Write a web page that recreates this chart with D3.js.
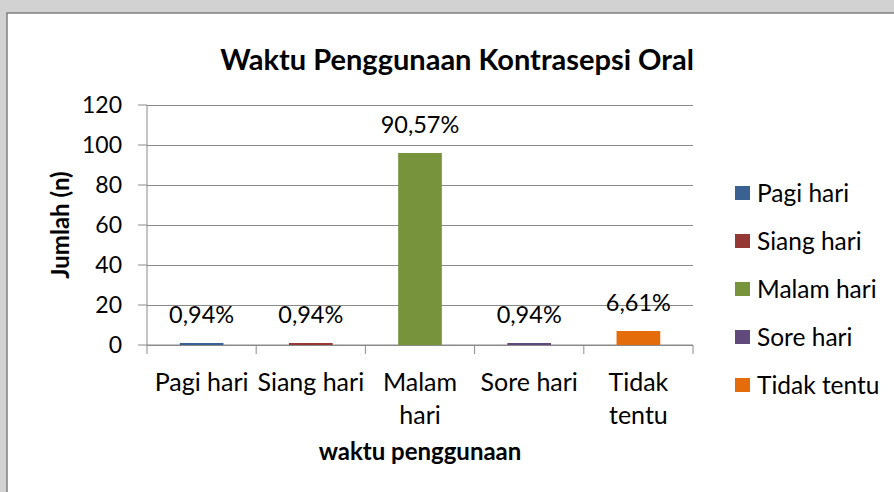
<!DOCTYPE html>
<meta charset="utf-8">
<style>
    body { margin: 0; background: #d2d2d2; }
    text { font-family: Lato, 'Open Sans', sans-serif; fill: #000; }
    .title { font-size: 29px; font-weight: bold; }
    .axis-title { font-size: 24px; font-weight: bold; }
    .tick-label { font-size: 23px; }
    .cat-label { font-size: 25px; }
    .data-label { font-size: 23.5px; }
    .legend-label { font-size: 24.5px; }
    .grid line { stroke: #8a8a8a; stroke-width: 1px; }
    .axis-line { stroke: #8a8a8a; stroke-width: 1px; fill: none; }
</style>
<body>
<div id="chart"></div>
<script src="https://cdn.jsdelivr.net/npm/d3@7"></script>
<script>
    var categories = ["Pagi hari", "Siang hari", "Malam hari", "Sore hari", "Tidak tentu"];
    var category_lines = [["Pagi hari"], ["Siang hari"], ["Malam", "hari"], ["Sore hari"], ["Tidak", "tentu"]];
    var counts = [1, 1, 96, 1, 7];
    var percent_labels = ["0,94%", "0,94%", "90,57%", "0,94%", "6,61%"];
    var colors = ["#3b6192", "#953735", "#77933c", "#604a7b", "#e46c0a"];
    var y_ticks = [0, 20, 40, 60, 80, 100, 120];

    var width = 894,
        height = 492;

    var plot_left = 147,
        plot_right = 693,
        plot_top = 105,
        plot_bottom = 345;

    var svg = d3.select("#chart").append("svg")
        .attr("width", width)
        .attr("height", height);

    // chart frame
    svg.append("rect")
        .attr("x", 7)
        .attr("y", 13)
        .attr("width", width)
        .attr("height", height)
        .attr("fill", "#fff")
        .attr("stroke", "#808080")
        .attr("stroke-width", 1.5);

    var x = d3.scaleBand()
        .domain(categories)
        .range([plot_left, plot_right])
        .paddingInner(0.6)
        .paddingOuter(0.3);

    var y = d3.scaleLinear()
        .domain([0, 120])
        .range([plot_bottom, plot_top]);

    // gridlines + y axis
    var yAxis = svg.append("g")
        .attr("class", "grid")
        .attr("transform", "translate(" + plot_left + ",0)")
        .call(d3.axisLeft(y).tickValues(y_ticks).tickSize(-(plot_right - plot_left)).tickFormat(""));
    yAxis.select(".domain").remove();

    svg.selectAll(".y-tick")
        .data(y_ticks)
        .enter().append("line")
        .attr("class", "axis-line")
        .attr("x1", plot_left - 9)
        .attr("x2", plot_left)
        .attr("y1", d => y(d))
        .attr("y2", d => y(d));

    svg.selectAll(".y-label")
        .data(y_ticks)
        .enter().append("text")
        .attr("class", "tick-label")
        .attr("x", 122)
        .attr("y", d => y(d))
        .attr("dy", "0.36em")
        .attr("text-anchor", "end")
        .text(d => d);

    svg.append("line")
        .attr("class", "axis-line")
        .attr("x1", plot_left).attr("x2", plot_left)
        .attr("y1", plot_top).attr("y2", plot_bottom);

    // x axis
    svg.append("line")
        .attr("class", "axis-line")
        .attr("x1", plot_left).attr("x2", plot_right)
        .attr("y1", plot_bottom).attr("y2", plot_bottom);

    var step = x.step();
    var boundaries = categories.map(c => x(c) - step * 0.3).concat([plot_right]);

    svg.selectAll(".x-tick")
        .data(boundaries)
        .enter().append("line")
        .attr("class", "axis-line")
        .attr("x1", d => d).attr("x2", d => d)
        .attr("y1", plot_bottom).attr("y2", plot_bottom + 9);

    var xLabels = svg.selectAll(".x-label")
        .data(categories)
        .enter().append("text")
        .attr("class", "cat-label")
        .attr("text-anchor", "middle")
        .attr("x", d => x(d) + x.bandwidth() / 2)
        .attr("y", 391);

    xLabels.selectAll("tspan")
        .data((d, i) => category_lines[i])
        .enter().append("tspan")
        .attr("x", function() { return d3.select(this.parentNode).attr("x"); })
        .attr("dy", (d, i) => i === 0 ? 0 : 33)
        .text(d => d);

    // bars
    svg.selectAll(".bar")
        .data(categories)
        .enter().append("rect")
        .attr("class", "bar")
        .attr("x", d => x(d))
        .attr("width", x.bandwidth())
        .attr("y", (d, i) => y(counts[i]))
        .attr("height", (d, i) => y(0) - y(counts[i]))
        .attr("fill", (d, i) => colors[i]);

    svg.selectAll(".data-label")
        .data(categories)
        .enter().append("text")
        .attr("class", "data-label")
        .attr("text-anchor", "middle")
        .attr("x", d => x(d) + x.bandwidth() / 2)
        .attr("y", (d, i) => y(counts[i]) - 20)
        .text((d, i) => percent_labels[i]);

    // titles
    svg.append("text")
        .attr("class", "title")
        .attr("text-anchor", "middle")
        .attr("x", 457)
        .attr("y", 70)
        .text("Waktu Penggunaan Kontrasepsi Oral");

    svg.append("text")
        .attr("class", "axis-title")
        .attr("text-anchor", "middle")
        .attr("x", (plot_left + plot_right) / 2)
        .attr("y", 460)
        .text("waktu penggunaan");

    svg.append("text")
        .attr("class", "axis-title")
        .attr("text-anchor", "middle")
        .attr("transform", "translate(69," + (plot_top + plot_bottom) / 2 + ") rotate(-90)")
        .text("Jumlah (n)");

    // legend
    var legend = svg.selectAll(".legend")
        .data(categories)
        .enter().append("g")
        .attr("transform", (d, i) => "translate(735," + (193 + i * 48) + ")");

    legend.append("rect")
        .attr("x", 0)
        .attr("y", -7)
        .attr("width", 15)
        .attr("height", 14)
        .attr("fill", (d, i) => colors[i]);

    legend.append("text")
        .attr("class", "legend-label")
        .attr("x", 22)
        .attr("dy", "0.36em")
        .text(d => d);
</script>
</body>
